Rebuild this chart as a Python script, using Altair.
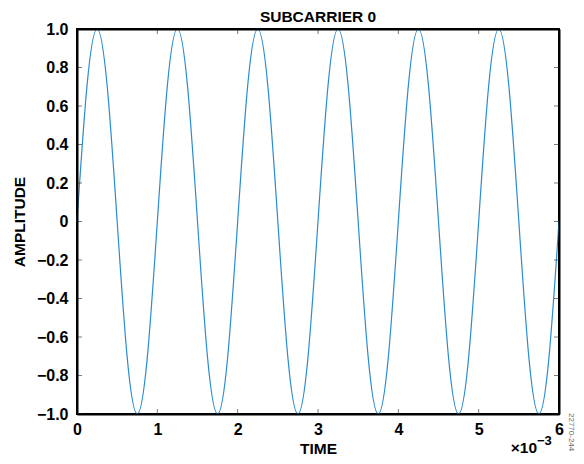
import altair as alt
import pandas as pd

# time in units of 1e-3 s, sampled every 1/8 period
time_ms = [0, 0.125, 0.25, 0.375, 0.5, 0.625, 0.75, 0.875,
           1, 1.125, 1.25, 1.375, 1.5, 1.625, 1.75, 1.875,
           2, 2.125, 2.25, 2.375, 2.5, 2.625, 2.75, 2.875,
           3, 3.125, 3.25, 3.375, 3.5, 3.625, 3.75, 3.875,
           4, 4.125, 4.25, 4.375, 4.5, 4.625, 4.75, 4.875,
           5, 5.125, 5.25, 5.375, 5.5, 5.625, 5.75, 5.875, 6]
amplitude = [0, 0.707, 1, 0.707, 0, -0.707, -1, -0.707,
             0, 0.707, 1, 0.707, 0, -0.707, -1, -0.707,
             0, 0.707, 1, 0.707, 0, -0.707, -1, -0.707,
             0, 0.707, 1, 0.707, 0, -0.707, -1, -0.707,
             0, 0.707, 1, 0.707, 0, -0.707, -1, -0.707,
             0, 0.707, 1, 0.707, 0, -0.707, -1, -0.707, 0]

x_ticks = [0, 1, 2, 3, 4, 5, 6]
y_ticks = [-1.0, -0.8, -0.6, -0.4, -0.2, 0.0, 0.2, 0.4, 0.6, 0.8, 1.0]
x_range = [0, 6]
y_range = [-1.0, 1.0]

W, H = 482, 385
FONT = "Liberation Sans"

df = pd.DataFrame({"t": time_ms, "a": amplitude})
xt = pd.DataFrame({"t": x_ticks * 2,
                   "a": [y_range[1]] * len(x_ticks) + [y_range[0]] * len(x_ticks)})
yt = pd.DataFrame({"a": y_ticks * 2,
                   "t": [x_range[0]] * len(y_ticks) + [x_range[1]] * len(y_ticks)})

xscale = alt.Scale(domain=x_range, nice=False, zero=False)
yscale = alt.Scale(domain=y_range, nice=False, zero=False)

frame_axis = dict(domain=True, domainColor="black", domainWidth=2, zindex=1,
                  grid=False, ticks=False)

xaxis = alt.Axis(values=x_ticks, title="TIME", labelFlush=False, **frame_axis,
                 labelFont=FONT, labelFontSize=16, labelFontWeight="bold", labelColor="black",
                 labelPadding=7, titleFont=FONT, titleFontSize=15.5, titleFontWeight="bold",
                 titleColor="black", titlePadding=4, format="d")
yaxis = alt.Axis(values=y_ticks, title="AMPLITUDE", labelFlush=False, **frame_axis,
                 labelFont=FONT, labelFontSize=16, labelFontWeight="bold", labelColor="black",
                 labelPadding=9,
                 labelExpr="datum.value == 0 ? '0' : format(datum.value, '.1f')",
                 titleFont=FONT, titleFontSize=15.5, titleFontWeight="bold",
                 titleColor="black", titlePadding=9)
xaxis_top = alt.Axis(orient="top", labels=False, title=None, **frame_axis)
yaxis_right = alt.Axis(orient="right", labels=False, title=None, **frame_axis)

line = alt.Chart(df).mark_line(color="#2b8cd3", strokeWidth=1.2, interpolate="natural").encode(
    x=alt.X("t:Q", scale=xscale, axis=xaxis),
    y=alt.Y("a:Q", scale=yscale, axis=yaxis),
)

xtick_marks = alt.Chart(xt).mark_tick(
    orient="vertical", size=10, thickness=1, color="#444", clip=True
).encode(x=alt.X("t:Q", scale=xscale, axis=None),
         y=alt.Y("a:Q", scale=yscale, axis=None))
ytick_marks = alt.Chart(yt).mark_tick(
    orient="horizontal", size=10, thickness=1, color="#444", clip=True
).encode(x=alt.X("t:Q", scale=xscale, axis=xaxis_top),
         y=alt.Y("a:Q", scale=yscale, axis=yaxis_right))

title_txt = alt.Chart(pd.DataFrame({"s": ["SUBCARRIER 0"]})).mark_text(
    font=FONT, fontSize=15.5, fontWeight="bold", align="center", baseline="alphabetic", color="black"
).encode(text="s:N", x=alt.value(W / 2), y=alt.value(-7))
exp_base = alt.Chart(pd.DataFrame({"s": ["×10"]})).mark_text(
    font=FONT, fontSize=15.5, fontWeight="bold", align="right", baseline="middle", color="black"
).encode(text="s:N", x=alt.value(460), y=alt.value(419))
exp_sup = alt.Chart(pd.DataFrame({"s": ["−3"]})).mark_text(
    font=FONT, fontSize=13, fontWeight="bold", align="left", baseline="middle", color="black"
).encode(text="s:N", x=alt.value(460), y=alt.value(412))
fig_id = alt.Chart(pd.DataFrame({"s": ["22770-244"]})).mark_text(
    font=FONT, fontSize=8, angle=90, align="left", baseline="middle", color="#666"
).encode(text="s:N", x=alt.value(494), y=alt.value(384))

chart = alt.layer(line, xtick_marks, ytick_marks,
                  title_txt, exp_base, exp_sup, fig_id).resolve_axis(
    x="independent", y="independent"
).properties(
    width=W, height=H,
    background="white",
    autosize=alt.AutoSizeParams(type="none"),
    padding={"left": 69, "top": 21, "right": 17, "bottom": 42},
).configure_view(stroke="black", strokeWidth=2)

chart.save("out.html", embed_options={"renderer": "svg", "actions": False})
